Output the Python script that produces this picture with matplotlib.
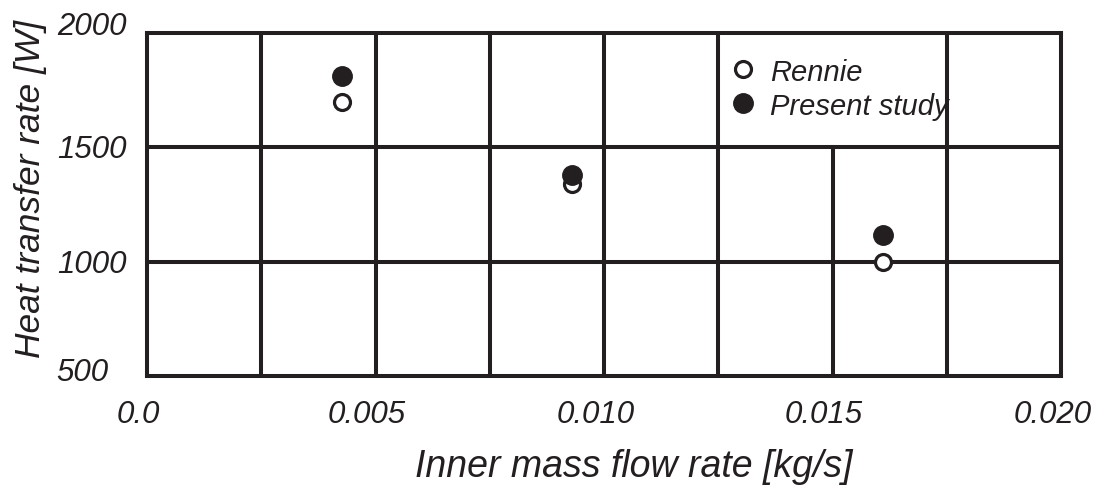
import matplotlib
matplotlib.use("Agg")
import matplotlib.pyplot as plt
from matplotlib.transforms import ScaledTranslation

# Measured heat transfer rate against inner mass flow rate
flow_rate = [0.00426, 0.00929, 0.01610]          # kg/s
rennie = [1700, 1340, 1000]                       # W
present_study = [1810, 1380, 1115]                # W

x_ticks = [0.0, 0.005, 0.010, 0.015, 0.020]
x_tick_labels = ["0.0", "0.005", "0.010", "0.015", "0.020"]
y_ticks = [500, 1000, 1500, 2000]
y_tick_labels = ["500", "1000", "1500", "2000"]

INK = "#231f20"
plt.rcParams["font.family"] = ["Liberation Sans", "DejaVu Sans"]
plt.rcParams["font.style"] = "italic"

fig = plt.figure(figsize=(10.97, 4.89), dpi=100)
ax = fig.add_axes([0.134, 0.229, 0.8332, 0.7015])
ax.set_xlim(0.0, 0.020)
ax.set_ylim(500, 2000)

# grid: vertical lines every 0.0025, the one at 0.015 stops below the legend
lw = 2.9
for xv in [0.0025, 0.005, 0.0075, 0.010, 0.0125, 0.0175]:
    ax.axvline(xv, color=INK, lw=lw, zorder=1)
ax.axvline(0.015, ymin=0.0, ymax=(1500 - 500) / 1500, color=INK, lw=lw, zorder=1)
for yv in [1000, 1500]:
    ax.axhline(yv, color=INK, lw=lw, zorder=1)
for sp in ax.spines.values():
    sp.set_linewidth(lw)
    sp.set_color(INK)

ax.plot(flow_rate, rennie, linestyle="none", marker="o", ms=11.5, mew=2.3,
        mec=INK, mfc="white", label="Rennie", zorder=3)
ax.plot(flow_rate, present_study, linestyle="none", marker="o", ms=14, mew=1,
        mec=INK, mfc=INK, label="Present study", zorder=4)

ax.set_xticks(x_ticks)
ax.set_xticklabels(x_tick_labels, fontsize=22.5, color=INK)
ax.set_yticks(y_ticks)
ax.set_yticklabels(y_tick_labels, fontsize=22.5, color=INK, ha="left")
ax.tick_params(axis="x", length=0, pad=16.5)
ax.tick_params(axis="y", length=0, pad=65)

for lab in ax.get_xticklabels():
    lab.set_transform(lab.get_transform() + ScaledTranslation(-6 / 72, 0, fig.dpi_scale_trans))
# small upward shifts of the y tick labels, in pixels
y_label_lift = [8, 1.5, 2, 10.5]
for lab, lift in zip(ax.get_yticklabels(), y_label_lift):
    lab.set_transform(lab.get_transform() + ScaledTranslation(0, lift * 0.72 / 72, fig.dpi_scale_trans))

ax.set_xlabel("Inner mass flow rate [kg/s]", fontsize=27, color=INK)
ax.set_ylabel("Heat transfer rate [W]", fontsize=25.5, color=INK)
ax.xaxis.set_label_coords(0.532, -0.262)
ax.xaxis.label.set_va("center")
ax.yaxis.set_label_coords(-0.128, 0.548)
ax.yaxis.label.set_va("center")

leg = ax.legend(loc="upper left", bbox_to_anchor=(0.623, 0.962), frameon=False,
                fontsize=21, handlelength=1.0, handletextpad=0.45,
                labelspacing=0.2, borderaxespad=0.0)
for t in leg.get_texts():
    t.set_color(INK)

fig.savefig("out.png", dpi=100)
